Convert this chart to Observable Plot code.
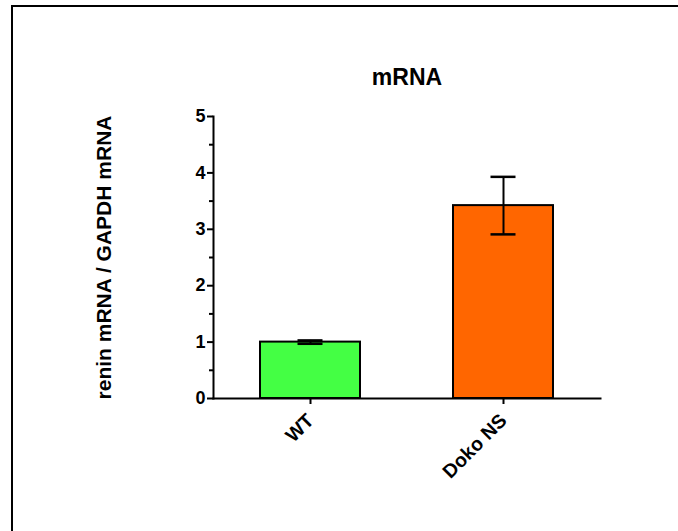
<!DOCTYPE html>
<html>
<head>
<meta charset="utf-8">
<script src="https://cdn.jsdelivr.net/npm/d3@7"></script>
<script src="https://cdn.jsdelivr.net/npm/@observablehq/plot@0.6"></script>
<style>
  html, body { margin: 0; padding: 0; background: #fff; }
  #wrap { position: relative; width: 678px; height: 531px; overflow: hidden; }
  #frame { position: absolute; left: 11px; top: 5px; width: 700px; height: 560px;
           border-top: 2px solid #000; border-left: 2px solid #000; box-sizing: border-box; }
  #chart { position: absolute; left: 0; top: 0; }
  svg { font-family: "Liberation Sans", Arial, sans-serif; }
</style>
</head>
<body>
<div id="wrap"><div id="frame"></div><div id="chart"></div></div>
<script>
const categories = ["WT", "Doko NS"];
const means = [1.0, 3.42];
const sems = [0.03, 0.51];
const colors = ["#44ff44", "#ff6600"];
const yTicks = [0, 1, 2, 3, 4, 5];
const yMinorTicks = [0.5, 1.5, 2.5, 3.5, 4.5];
const title = "mRNA";
const yLabel = "renin mRNA / GAPDH mRNA";

const data = categories.map((c, i) => ({group: c, value: means[i], lo: means[i] - sems[i], hi: means[i] + sems[i], color: colors[i]}));

const plot = Plot.plot({
  width: 678,
  height: 531,
  marginLeft: 213,
  marginRight: 78,
  marginTop: 116,
  marginBottom: 133,
  style: {fontFamily: "'Liberation Sans', Arial, sans-serif", background: "transparent"},
  x: {domain: categories, paddingInner: 0.483, paddingOuter: 0.2415, align: 0.5},
  y: {domain: [0, 5]},
  marks: [
    Plot.barY(data, {x: "group", y: "value", fill: "color", stroke: "#000", strokeWidth: 2}),
    Plot.ruleX(data, {x: "group", y1: "lo", y2: "hi", stroke: "#000", strokeWidth: 2}),
    Plot.tickY(data, {x: "group", y: "lo", stroke: "#000", strokeWidth: 2.5, insetLeft: 37.5, insetRight: 37.5}),
    Plot.tickY(data, {x: "group", y: "hi", stroke: "#000", strokeWidth: 2.5, insetLeft: 37.5, insetRight: 37.5}),
    Plot.frame({anchor: "left", stroke: "#000", strokeWidth: 2}),
    Plot.frame({anchor: "bottom", stroke: "#000", strokeWidth: 2}),
    Plot.axisY({ticks: yTicks, tickSize: 6, tickPadding: 2, tickFormat: d => String(d), label: null,
      fontSize: 18, fontWeight: "bold", strokeWidth: 2, color: "#000"}),
    Plot.axisY({ticks: yMinorTicks, tickSize: 4, tickFormat: () => "", label: null, strokeWidth: 2, color: "#000"}),
    Plot.axisX({tickSize: 6, tickRotate: -45, tickPadding: 13, label: null,
      fontSize: 19.5, fontWeight: "bold", strokeWidth: 2, color: "#000"}),
    Plot.text([yLabel], {frameAnchor: "left", textAnchor: "middle", lineAnchor: "middle", dx: -109, rotate: -90,
      fontSize: 21, fontWeight: "bold", fill: "#000"}),
    Plot.text([title], {frameAnchor: "top", textAnchor: "middle", lineAnchor: "middle", dy: -39,
      fontSize: 23, fontWeight: "bold", fill: "#000"})
  ]
});
document.getElementById("chart").appendChild(plot);
</script>
</body>
</html>
